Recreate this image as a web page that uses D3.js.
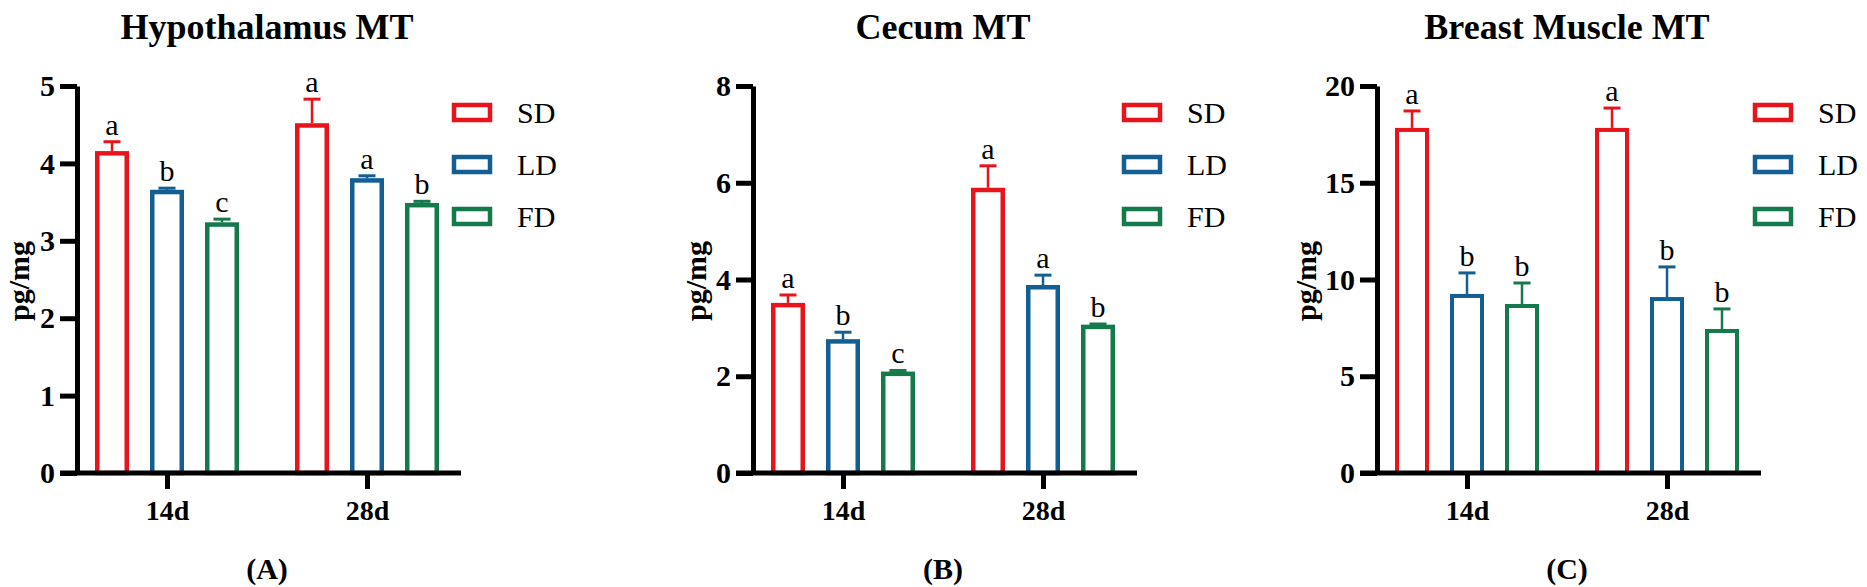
<!DOCTYPE html>
<html>
<head>
<meta charset="utf-8">
<script src="https://cdn.jsdelivr.net/npm/d3@7"></script>
<style>
  body { margin: 0; background: #fff; }
  svg { display: block; }
  text { font-family: "Liberation Serif", "Times New Roman", serif; fill: #000; }
</style>
</head>
<body>
<div id="chart"></div>
<script>
var width = 1867;
var height = 587;

// categories
var days = ['14d', '28d'];
var groups = ['SD', 'LD', 'FD'];
var colors = ['#e8141b', '#135f94', '#147a4b'];

// Hypothalamus MT (rows = day, cols = SD, LD, FD)
var hypoMean = [[4.13, 3.63, 3.21], [4.49, 3.78, 3.46]];
var hypoErr = [[0.15, 0.05, 0.07], [0.34, 0.06, 0.05]];
var hypoSig = [['a', 'b', 'c'], ['a', 'a', 'b']];
var hypoTicks = [0, 1, 2, 3, 4, 5];

// Cecum MT
var cecumMean = [[3.47, 2.72, 2.05], [5.85, 3.84, 3.02]];
var cecumErr = [[0.21, 0.19, 0.07], [0.50, 0.25, 0.06]];
var cecumSig = [['a', 'b', 'c'], ['a', 'a', 'b']];
var cecumTicks = [0, 2, 4, 6, 8];

// Breast Muscle MT
var muscleMean = [[17.73, 9.15, 8.63], [17.73, 8.99, 7.34]];
var muscleErr = [[0.98, 1.19, 1.19], [1.13, 1.66, 1.14]];
var muscleSig = [['a', 'b', 'b'], ['a', 'b', 'b']];
var muscleTicks = [0, 5, 10, 15, 20];

var titles = ['Hypothalamus MT', 'Cecum MT', 'Breast Muscle MT'];
var panelTags = ['(A)', '(B)', '(C)'];

// layout
var axisX = [77, 753, 1377];
var legendDx = [375, 369, 376];
var yLabelDx = [-59, -58, -72];
var plotTop = 86;
var plotBottom = 473;

var svg = d3.select('#chart').append('svg')
    .attr('width', width)
    .attr('height', height);

svg.append('rect')
    .attr('width', width)
    .attr('height', height)
    .attr('fill', '#fff');

function drawPanel(i, mean, err, sig, ticks, barStroke) {
    var x0 = axisX[i];
    var g = svg.append('g');

    var yScale = d3.scaleLinear()
        .domain([0, d3.max(ticks)])
        .range([plotBottom, plotTop]);

    var xScale = d3.scalePoint()
        .domain(days)
        .range([x0 + 90, x0 + 290]);

    // bars inside a day group
    var inner = d3.scaleBand()
        .domain(groups)
        .range([-82.5, 82.5])
        .paddingInner(0.382)
        .paddingOuter(0.191);

    var rows = [];
    days.forEach(function (d, di) {
        groups.forEach(function (s, si) {
            rows.push({ day: d, group: s, si: si, v: mean[di][si], e: err[di][si], sig: sig[di][si] });
        });
    });

    var bw = inner.bandwidth();

    var bars = g.selectAll('g.bar')
        .data(rows)
        .enter()
        .append('g')
        .attr('class', 'bar');

    bars.append('rect')
        .attr('x', d => xScale(d.day) + inner(d.group) + barStroke / 2)
        .attr('y', d => yScale(d.v))
        .attr('width', bw - barStroke)
        .attr('height', d => yScale(0) - yScale(d.v))
        .attr('fill', '#fff')
        .attr('stroke', d => colors[d.si])
        .attr('stroke-width', barStroke);

    // upper error bars
    bars.append('line')
        .attr('x1', d => xScale(d.day) + inner(d.group) + bw / 2)
        .attr('x2', d => xScale(d.day) + inner(d.group) + bw / 2)
        .attr('y1', d => yScale(d.v) - barStroke / 2)
        .attr('y2', d => yScale(d.v + d.e))
        .attr('stroke', d => colors[d.si])
        .attr('stroke-width', 2.5);

    bars.append('line')
        .attr('x1', d => xScale(d.day) + inner(d.group) + bw / 2 - 8.5)
        .attr('x2', d => xScale(d.day) + inner(d.group) + bw / 2 + 8.5)
        .attr('y1', d => yScale(d.v + d.e))
        .attr('y2', d => yScale(d.v + d.e))
        .attr('stroke', d => colors[d.si])
        .attr('stroke-width', 3);

    bars.append('text')
        .attr('x', d => xScale(d.day) + inner(d.group) + bw / 2)
        .attr('y', d => yScale(d.v + d.e) - 7)
        .attr('text-anchor', 'middle')
        .style('font-size', '30px')
        .text(d => d.sig);

    // y axis
    var yAxis = g.append('g')
        .attr('transform', `translate(${x0}, 0)`)
        .call(d3.axisLeft(yScale).tickValues(ticks).tickFormat(d3.format('d'))
            .tickSize(17).tickSizeOuter(0).tickPadding(5));
    yAxis.selectAll('path, line').attr('stroke', '#000').attr('stroke-width', 5);
    yAxis.selectAll('text')
        .style('font-size', '30px')
        .style('font-weight', 'bold')
        .attr('fill', '#000');

    // x axis
    var xAxis = g.append('g')
        .attr('transform', `translate(0, ${plotBottom})`)
        .call(d3.axisBottom(xScale).tickSize(16).tickPadding(11));
    xAxis.select('.domain').remove();
    xAxis.selectAll('line').attr('stroke', '#000').attr('stroke-width', 5);
    xAxis.selectAll('text')
        .style('font-size', '28px')
        .style('font-weight', 'bold')
        .attr('fill', '#000');
    g.append('line')
        .attr('x1', x0 - 17)
        .attr('x2', x0 + 384)
        .attr('y1', plotBottom)
        .attr('y2', plotBottom)
        .attr('stroke', '#000')
        .attr('stroke-width', 5);

    // y label
    g.append('text')
        .attr('transform', `translate(${x0 + yLabelDx[i]}, 281) rotate(-90)`)
        .attr('text-anchor', 'middle')
        .attr('dominant-baseline', 'central')
        .style('font-size', '30px')
        .style('font-weight', 'bold')
        .text('pg/mg');

    // title + panel tag
    g.append('text')
        .attr('x', x0 + 190)
        .attr('y', 39)
        .attr('text-anchor', 'middle')
        .style('font-size', '36px')
        .style('font-weight', 'bold')
        .text(titles[i]);

    g.append('text')
        .attr('x', x0 + 190)
        .attr('y', 579)
        .attr('text-anchor', 'middle')
        .style('font-size', '30px')
        .style('font-weight', 'bold')
        .text(panelTags[i]);

    // legend
    var leg = g.selectAll('g.leg')
        .data(groups)
        .enter()
        .append('g')
        .attr('class', 'leg')
        .attr('transform', (d, k) => `translate(${x0 + legendDx[i]}, ${103 + k * 52})`);

    leg.append('rect')
        .attr('x', 2)
        .attr('y', 2)
        .attr('width', 36)
        .attr('height', 15)
        .attr('fill', '#fff')
        .attr('stroke', (d, k) => colors[k])
        .attr('stroke-width', 4.5);

    leg.append('text')
        .attr('x', 65)
        .attr('y', 20)
        .style('font-size', '30px')
        .text(d => d);
}

drawPanel(0, hypoMean, hypoErr, hypoSig, hypoTicks, 4.5);
drawPanel(1, cecumMean, cecumErr, cecumSig, cecumTicks, 4.5);
drawPanel(2, muscleMean, muscleErr, muscleSig, muscleTicks, 4);
</script>
</body>
</html>
